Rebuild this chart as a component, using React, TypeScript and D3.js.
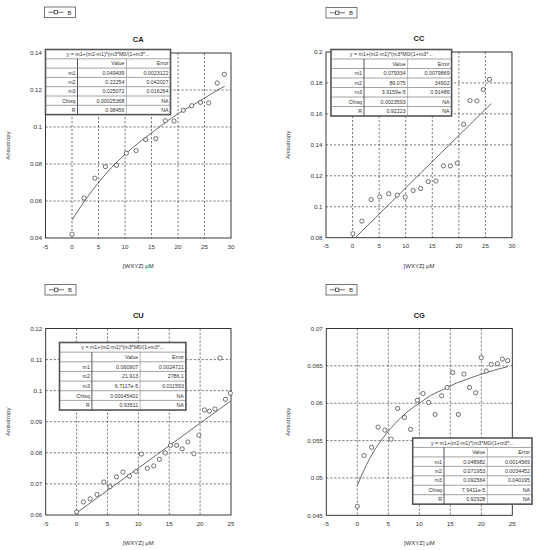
import React from 'react';
import * as d3 from 'd3';

// ---- data ----
const caConc = [0, 2.3, 4.3, 6.3, 8.4, 10.25, 12.1, 13.9, 15.8, 17.6, 19.25, 21, 22.6, 24.25, 25.8, 27.4, 28.75];
const caAniso = [0.042, 0.0616, 0.0723, 0.0786, 0.0793, 0.0858, 0.0872, 0.0932, 0.0937, 0.1034, 0.1032, 0.109, 0.1115, 0.1133, 0.113, 0.1238, 0.1285];
const caFitConc = [0, 3, 5, 7.5, 10, 12.5, 15, 17.5, 20, 22.5, 25, 27, 28.8];
const caFitAniso = [0.0497, 0.0625, 0.0699, 0.0782, 0.0852, 0.0913, 0.0968, 0.1022, 0.1072, 0.1114, 0.1156, 0.1192, 0.122];

const ccConc = [0.06, 1.75, 3.5, 5.1, 6.8, 8.4, 9.9, 11.4, 12.8, 14.25, 15.7, 17.1, 18.4, 19.7, 20.9, 22.1, 23.4, 24.6, 25.75];
const ccAniso = [0.0826, 0.0907, 0.1047, 0.1064, 0.1084, 0.1075, 0.1062, 0.1105, 0.1118, 0.1163, 0.1166, 0.1264, 0.1264, 0.1282, 0.1533, 0.1686, 0.1684, 0.1757, 0.1823];
const ccFitConc = [0, 13, 26.1];
const ccFitAniso = [0.0783, 0.1224, 0.1667];

const cuConc = [0, 1.1, 2.2, 3.3, 4.4, 5.4, 6.45, 7.5, 8.55, 9.6, 10.5, 11.45, 12.5, 13.4, 14.35, 15.2, 16.2, 17.1, 18.0, 19.0, 19.8, 20.7, 21.5, 22.4, 23.2, 24.1, 24.9];
const cuAniso = [0.061, 0.0642, 0.0652, 0.0666, 0.0706, 0.0691, 0.0723, 0.0738, 0.0725, 0.074, 0.0796, 0.075, 0.0758, 0.0779, 0.08, 0.0824, 0.0824, 0.0813, 0.0835, 0.0797, 0.0857, 0.0938, 0.0934, 0.0941, 0.1105, 0.0972, 0.0992];
const cuFitConc = [0, 12.5, 24.9];
const cuFitAniso = [0.0607, 0.0787, 0.0966];

const cgConc = [0, 1.1, 2.3, 3.35, 4.45, 5.45, 6.5, 7.6, 8.6, 9.7, 10.6, 11.5, 12.55, 13.6, 14.5, 15.4, 16.3, 17.2, 18.1, 19.1, 20.0, 20.8, 21.6, 22.6, 23.4, 24.25];
const cgAniso = [0.0462, 0.053, 0.0541, 0.0568, 0.0564, 0.0552, 0.0593, 0.0581, 0.0565, 0.0604, 0.0613, 0.0601, 0.0585, 0.061, 0.0621, 0.0641, 0.0585, 0.0639, 0.0621, 0.0614, 0.0661, 0.0643, 0.0652, 0.0653, 0.0659, 0.0657];
const cgFitConc = [0, 1, 2, 3, 4, 6, 8, 10, 12, 14, 16, 18, 20, 22, 24.3];
const cgFitAniso = [0.049, 0.0509, 0.0526, 0.054, 0.0552, 0.0572, 0.0588, 0.06, 0.0611, 0.0619, 0.0627, 0.0633, 0.0639, 0.0644, 0.0649];

const xTicksWide = [-5, 0, 5, 10, 15, 20, 25, 30];
const xTicksNarrow = [-5, 0, 5, 10, 15, 20, 25];
const caYTicks = [0.04, 0.06, 0.08, 0.1, 0.12, 0.14];
const ccYTicks = [0.08, 0.1, 0.12, 0.14, 0.16, 0.18, 0.2];
const cuYTicks = [0.06, 0.07, 0.08, 0.09, 0.1, 0.11, 0.12];
const cgYTicks = [0.045, 0.05, 0.055, 0.06, 0.065, 0.07];

const rowNames = ['m1', 'm2', 'm3', 'Chisq', 'R'];
const fitFormula = 'y = m1+(m2-m1)*(m3*M0/(1+m3*...';
const caValues = ['0.049439', '0.22254', '0.025072', '0.00025368', '0.98456'];
const caErrors = ['0.0023122', '0.042027', '0.016264', 'NA', 'NA'];
const ccValues = ['0.079334', '89.075', '3.9159e-5', '0.0023593', '0.92223'];
const ccErrors = ['0.0079869', '34902', '0.91486', 'NA', 'NA'];
const cuValues = ['0.060907', '21.913', '6.7117e-5', '0.00045402', '0.93511'];
const cuErrors = ['0.0024721', '2786.1', '0.011593', 'NA', 'NA'];
const cgValues = ['0.048982', '0.071953', '0.092564', '7.9411e-5', '0.92928'];
const cgErrors = ['0.0014569', '0.0034452', '0.040195', 'NA', 'NA'];

const FONT = 'Liberation Sans, Arial, sans-serif';
const INK = '#333';

type PanelProps = {
  id: string;
  title: string;
  box: [number, number, number, number]; // left, top, right, bottom
  xDomain: [number, number];
  yDomain: [number, number];
  xTicks: number[];
  yTicks: number[];
  conc: number[];
  aniso: number[];
  fitConc: number[];
  fitAniso: number[];
  legendAt: [number, number];
  table: { x: number; y: number; cols: number[]; rowH: number };
  values: string[];
  errors: string[];
};

function Panel(p: PanelProps) {
  const [l, t, r, b] = p.box;
  const x = d3.scaleLinear().domain(p.xDomain).range([l, r]);
  const y = d3.scaleLinear().domain(p.yDomain).range([b, t]);
  const pts = p.conc.map((c, i) => [c, p.aniso[i]] as [number, number]);
  const fit = p.fitConc.map((c, i) => [c, p.fitAniso[i]] as [number, number]);
  const line = d3
    .line<[number, number]>()
    .x((d) => x(d[0]))
    .y((d) => y(d[1]))
    .curve(d3.curveMonotoneX);
  const fmt = (v: number) => String(+v.toFixed(4));
  const cx = (l + r) / 2;
  const cy = (t + b) / 2;

  const tb = p.table;
  const tw = tb.cols.reduce((a, c) => a + c, 0);
  const th = tb.rowH * 7;
  const colX = [tb.x, tb.x + tb.cols[0], tb.x + tb.cols[0] + tb.cols[1], tb.x + tw];

  const [lgx, lgy] = p.legendAt;

  return (
    <g fontFamily={FONT} fill={INK}>
      <defs>
        <clipPath id={`clip-${p.id}`}>
          <rect x={l} y={t} width={r - l} height={b - t} />
        </clipPath>
      </defs>

      {/* legend */}
      <rect x={lgx} y={lgy} width={31} height={10.5} fill="#fff" stroke="#555" strokeWidth={0.8} />
      <line x1={lgx + 4} x2={lgx + 19} y1={lgy + 5.25} y2={lgy + 5.25} stroke={INK} strokeWidth={0.7} />
      <rect x={lgx + 9.6} y={lgy + 3.6} width={3.3} height={3.3} fill="#fff" stroke={INK} strokeWidth={0.7} />
      <text x={lgx + 23} y={lgy + 7.6} fontSize={6}>B</text>

      {/* title */}
      <text x={cx} y={t - 11} fontSize={7.5} fontWeight="bold" textAnchor="middle" fill="#222">
        {p.title}
      </text>

      {/* grid */}
      {p.xTicks.slice(1, -1).map((v) => (
        <line key={`gx${v}`} x1={x(v)} x2={x(v)} y1={t} y2={b} stroke="#222" strokeWidth={0.6} strokeDasharray="2.2,1.8" />
      ))}
      {p.yTicks.slice(1, -1).map((v) => (
        <line key={`gy${v}`} x1={l} x2={r} y1={y(v)} y2={y(v)} stroke="#222" strokeWidth={0.6} strokeDasharray="2.2,1.8" />
      ))}
      <rect x={l} y={t} width={r - l} height={b - t} fill="none" stroke="#222" strokeWidth={0.9} />

      {/* tick labels */}
      {p.xTicks.map((v) => (
        <text key={`tx${v}`} x={x(v)} y={b + 10.5} fontSize={6.2} textAnchor="middle">
          {v}
        </text>
      ))}
      {p.yTicks.map((v) => (
        <text key={`ty${v}`} x={l - 3.5} y={y(v) + 2.2} fontSize={6.2} textAnchor="end">
          {fmt(v)}
        </text>
      ))}

      {/* axis labels */}
      <text x={cx} y={b + 30} fontSize={6} textAnchor="middle">[WXYZ] μM</text>
      <text transform={`translate(${l - 36},${cy}) rotate(-90)`} fontSize={6} textAnchor="middle">
        Anisotropy
      </text>

      {/* fit curve */}
      <path d={line(fit) || ''} fill="none" stroke="#444" strokeWidth={0.8} clipPath={`url(#clip-${p.id})`} />

      {/* points */}
      {pts.map((d, i) => (
        <rect
          key={`p${i}`}
          x={x(d[0]) - 2}
          y={y(d[1]) - 2}
          width={4}
          height={4}
          rx={1.6}
          fill="#fff"
          stroke="#333"
          strokeWidth={0.7}
        />
      ))}

      {/* fit table */}
      <g>
        <rect x={tb.x} y={tb.y} width={tw} height={th} fill="#fff" stroke="#555" strokeWidth={1.6} />
        {[1, 2, 3, 4, 5, 6].map((k) => (
          <line key={`hr${k}`} x1={tb.x} x2={tb.x + tw} y1={tb.y + k * tb.rowH} y2={tb.y + k * tb.rowH} stroke="#666" strokeWidth={0.6} />
        ))}
        {[1, 2].map((k) => (
          <line key={`vr${k}`} x1={colX[k]} x2={colX[k]} y1={tb.y + tb.rowH} y2={tb.y + th} stroke={k === 1 ? '#444' : '#888'} strokeWidth={k === 1 ? 0.9 : 0.6} />
        ))}
        <text x={tb.x + tw / 2} y={tb.y + tb.rowH * 0.7} fontSize={5.3} textAnchor="middle">
          {fitFormula}
        </text>
        <text x={colX[2] - 2} y={tb.y + tb.rowH * 1.7} fontSize={5.3} textAnchor="end">Value</text>
        <text x={colX[3] - 2} y={tb.y + tb.rowH * 1.7} fontSize={5.3} textAnchor="end">Error</text>
        {rowNames.map((n, i) => (
          <g key={n} fontSize={5.3} textAnchor="end">
            <text x={colX[1] - 2} y={tb.y + tb.rowH * (i + 2.7)}>{n}</text>
            <text x={colX[2] - 2} y={tb.y + tb.rowH * (i + 2.7)}>{p.values[i]}</text>
            <text x={colX[3] - 2} y={tb.y + tb.rowH * (i + 2.7)}>{p.errors[i]}</text>
          </g>
        ))}
      </g>
    </g>
  );
}

export default function App() {
  return (
    <svg
      width={536}
      height={550}
      viewBox="0 0 536 550"
      style={{ position: 'absolute', left: 0, top: 0, background: '#fff' }}
    >
      <rect width={536} height={550} fill="#fff" />
      <Panel
        id="ca"
        title="CA"
        box={[45.5, 53, 231, 238]}
        xDomain={[-5, 30]}
        yDomain={[0.04, 0.14]}
        xTicks={xTicksWide}
        yTicks={caYTicks}
        conc={caConc}
        aniso={caAniso}
        fitConc={caFitConc}
        fitAniso={caFitAniso}
        legendAt={[44.5, 7]}
        table={{ x: 45.5, y: 49.5, cols: [32, 49, 44], rowH: 9.3 }}
        values={caValues}
        errors={caErrors}
      />
      <Panel
        id="cc"
        title="CC"
        box={[326, 52, 512, 237.7]}
        xDomain={[-5, 30]}
        yDomain={[0.08, 0.2]}
        xTicks={xTicksWide}
        yTicks={ccYTicks}
        conc={ccConc}
        aniso={ccAniso}
        fitConc={ccFitConc}
        fitAniso={ccFitAniso}
        legendAt={[326, 7.5]}
        table={{ x: 331, y: 49.5, cols: [33, 43.6, 44], rowH: 9.5 }}
        values={ccValues}
        errors={ccErrors}
      />
      <Panel
        id="cu"
        title="CU"
        box={[45.7, 328.5, 231, 515]}
        xDomain={[-5, 25]}
        yDomain={[0.06, 0.12]}
        xTicks={xTicksNarrow}
        yTicks={cuYTicks}
        conc={cuConc}
        aniso={cuAniso}
        fitConc={cuFitConc}
        fitAniso={cuFitAniso}
        legendAt={[45, 284.5]}
        table={{ x: 59.5, y: 342.5, cols: [32.4, 48.3, 45.7], rowH: 9.65 }}
        values={cuValues}
        errors={cuErrors}
      />
      <Panel
        id="cg"
        title="CG"
        box={[326.3, 328.5, 512.3, 515.3]}
        xDomain={[-5, 25]}
        yDomain={[0.045, 0.07]}
        xTicks={xTicksNarrow}
        yTicks={cgYTicks}
        conc={cgConc}
        aniso={cgAniso}
        fitConc={cgFitConc}
        fitAniso={cgFitAniso}
        legendAt={[326, 284.5]}
        table={{ x: 412.7, y: 438, cols: [31.3, 43.3, 44.7], rowH: 9.45 }}
        values={cgValues}
        errors={cgErrors}
      />
    </svg>
  );
}
